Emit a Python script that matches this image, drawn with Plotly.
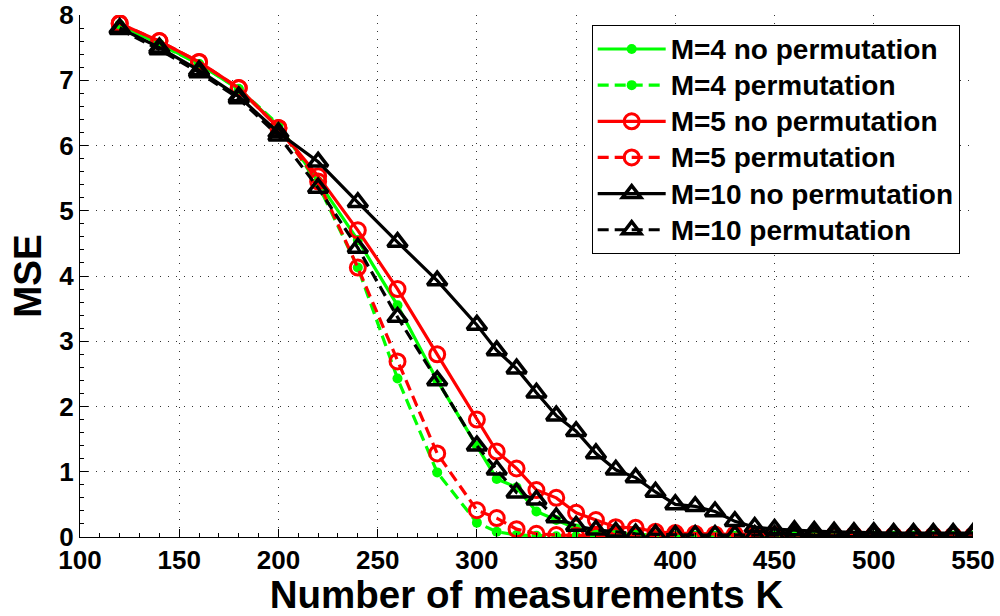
import plotly.graph_objects as go

K = [120, 140, 160, 180, 200, 220, 240, 260, 280,
     300, 310, 320, 330, 340, 350, 360, 370, 380, 390, 400,
     410, 420, 430, 440, 450, 460, 470, 480, 490, 500,
     510, 520, 530, 540, 550]

m4_noperm = [7.85, 7.56, 7.25, 6.86, 6.30, 5.45, 4.55, 3.55, 2.40,
             1.40, 0.89, 0.76, 0.39, 0.26, 0.13, 0.07, 0.05, 0.04, 0.03, 0.02,
             0.02, 0.02, 0.02, 0.02, 0.02, 0.02, 0.02, 0.02, 0.02, 0.02,
             0.02, 0.02, 0.02, 0.02, 0.02]
m4_perm = [7.85, 7.55, 7.25, 6.87, 6.32, 5.40, 4.13, 2.43, 0.99,
           0.22, 0.08, 0.03, 0.02, 0.01, 0.01, 0.01, 0.01, 0.01, 0.01, 0.01,
           0.01, 0.01, 0.01, 0.01, 0.01, 0.01, 0.01, 0.01, 0.01, 0.01,
           0.01, 0.01, 0.01, 0.01, 0.01]
m5_noperm = [7.87, 7.60, 7.28, 6.88, 6.27, 5.53, 4.70, 3.80, 2.80,
             1.80, 1.31, 1.05, 0.72, 0.60, 0.37, 0.26, 0.15, 0.14, 0.08, 0.06,
             0.05, 0.04, 0.04, 0.04, 0.03, 0.03, 0.03, 0.03, 0.03, 0.03,
             0.02, 0.02, 0.02, 0.02, 0.02]
m5_perm = [7.87, 7.60, 7.28, 6.88, 6.27, 5.45, 4.13, 2.69, 1.28,
           0.41, 0.29, 0.12, 0.05, 0.03, 0.02, 0.02, 0.02, 0.02, 0.02, 0.02,
           0.02, 0.02, 0.02, 0.02, 0.02, 0.02, 0.02, 0.02, 0.02, 0.02,
           0.02, 0.02, 0.02, 0.02, 0.02]
m10_noperm = [7.80, 7.50, 7.15, 6.75, 6.20, 5.75, 5.13, 4.52, 3.93,
              3.25, 2.86, 2.58, 2.21, 1.86, 1.62, 1.28, 1.03, 0.91, 0.69, 0.50,
              0.47, 0.39, 0.24, 0.15, 0.12, 0.10, 0.09, 0.08, 0.07, 0.07,
              0.06, 0.06, 0.06, 0.06, 0.06]
m10_perm = [7.78, 7.47, 7.12, 6.72, 6.15, 5.35, 4.43, 3.37, 2.40,
            1.40, 1.03, 0.68, 0.57, 0.30, 0.17, 0.11, 0.08, 0.05, 0.04, 0.03,
            0.03, 0.03, 0.03, 0.03, 0.03, 0.03, 0.03, 0.03, 0.03, 0.03,
            0.03, 0.03, 0.03, 0.03, 0.03]

names = ["M=4 no permutation", "M=4 permutation",
         "M=5 no permutation", "M=5 permutation",
         "M=10 no permutation", "M=10 permutation"]

x_ticks = [100, 150, 200, 250, 300, 350, 400, 450, 500, 550]
y_ticks = [0, 1, 2, 3, 4, 5, 6, 7, 8]

GREEN = "#00FF00"
RED = "#FF0000"
BLACK = "#000000"
DASH = "11px,6px"
FONT = "Liberation Sans, Arial, sans-serif"

series = [
    (m4_noperm, GREEN, "solid", dict(symbol="circle", size=10, color=GREEN, line=dict(width=0))),
    (m4_perm, GREEN, DASH, dict(symbol="circle", size=10, color=GREEN, line=dict(width=0))),
    (m5_noperm, RED, "solid", dict(symbol="circle-open", size=15, color=RED, line=dict(width=3, color=RED))),
    (m5_perm, RED, DASH, dict(symbol="circle-open", size=15, color=RED, line=dict(width=3, color=RED))),
    (m10_noperm, BLACK, "solid", dict(symbol="triangle-up-open", size=17, color=BLACK, line=dict(width=3.5, color=BLACK))),
    (m10_perm, BLACK, DASH, dict(symbol="triangle-up-open", size=17, color=BLACK, line=dict(width=3.5, color=BLACK))),
]

fig = go.Figure()
for (vals, col, dash, mk), nm in zip(series, names):
    fig.add_trace(go.Scatter(
        x=K, y=vals, mode="lines+markers",
        name=f"<span style='font-size:28px'>{nm}</span>",
        line=dict(color=col, width=3.2, dash=dash),
        marker=mk,
    ))

axis_common = dict(
    showline=True, linecolor="black", linewidth=1, mirror=False,
    ticks="inside", ticklen=8, tickwidth=1, tickcolor="black",
    showgrid=True, gridcolor="#333333", gridwidth=1, griddash="1px,7px",
    zeroline=False, automargin=False, ticklabeloverflow="allow",
    tickfont=dict(family=FONT, size=26, color="black", weight="bold"),
    title_font=dict(family=FONT, size=38.5, color="black", weight="bold"),
)

fig.update_xaxes(
    range=[100, 550], tickmode="array",
    tickvals=x_ticks, ticktext=[str(v) for v in x_ticks],
    minor=dict(ticks="inside", ticklen=4, tickcolor="black", dtick=10, showgrid=False),
    title_text="Number of measurements K", title_standoff=3,
    **axis_common,
)
fig.update_yaxes(
    range=[0, 8], tickmode="array",
    tickvals=y_ticks, ticktext=[str(v) for v in y_ticks],
    minor=dict(ticks="inside", ticklen=4, tickcolor="black", dtick=0.2, showgrid=False),
    title_text="MSE", title_standoff=5,
    **axis_common,
)

fig.update_layout(
    width=1000, height=616,
    margin=dict(l=80, r=27, t=15, b=79),
    paper_bgcolor="white", plot_bgcolor="white",
    showlegend=True,
    legend=dict(
        x=0.573, y=0.981, xanchor="left", yanchor="top",
        bgcolor="white", bordercolor="black", borderwidth=1,
        font=dict(family=FONT, size=25.5, color="black", weight="bold"),
        tracegroupgap=0, itemwidth=68,
    ),
)

# remove the browser's default body margin so the figure sits at the window origin
fig.write_html("out.html", config={"displayModeBar": False},
               post_script="document.body.style.margin='0';")
